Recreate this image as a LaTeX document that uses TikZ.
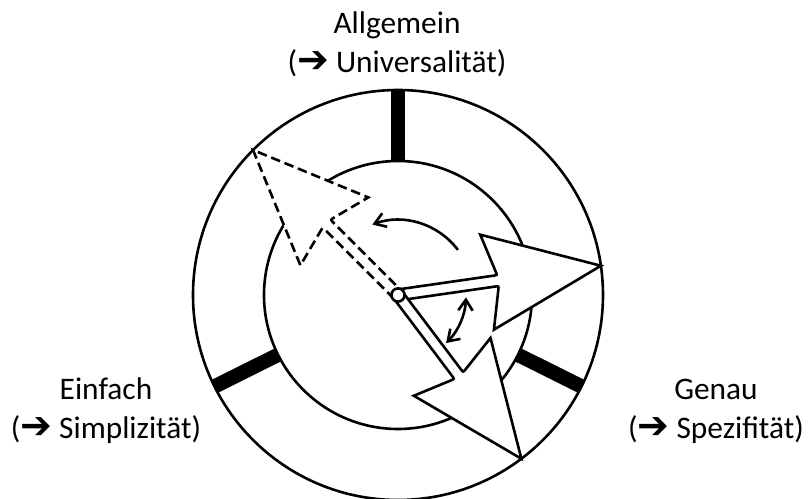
\documentclass[tikz,border=0pt]{standalone}
\usepackage{fontspec}
\setmainfont{Carlito}
\newfontfamily\arrowfont{DejaVu Sans}
\usetikzlibrary{arrows.meta}
\newcommand{\goes}{{\arrowfont\bfseries\fontsize{27}{27}\selectfont ➔}}
\begin{document}
\begin{tikzpicture}[
  x=0.025cm, y=0.025cm,
  ring/.style={draw, line width=0.065cm},
  bar/.style={line width=0.36cm},
  hand/.style={draw, fill=white, line width=0.065cm, line join=miter},
  ghost/.style={dash pattern=on 0.24cm off 0.12cm},
  turn/.style={line width=0.065cm, >={Straight Barb[length=0.27cm, width=0.36cm]}},
  hub/.style={circle, draw, fill=white, line width=0.065cm, minimum size=0.33cm, inner sep=0pt},
  note/.style={align=center, anchor=base, inner sep=0pt, font=\fontsize{22.3}{27.5}\selectfont}
]
\useasboundingbox (-398,-204) rectangle (410,295);
\draw[ring] (0,0) circle (205);
\draw[ring] (0,0) circle (134);
\foreach \a in {90,206.5,-26.5}
  \draw[bar] (\a:134) -- (\a:205);
\foreach \a/\look in {135/ghost, 8.2/solid, -53/solid}
  \draw[hand, \look, rotate=\a] (0,5.5) -- (97,5.5) .. controls (101,5.5) .. (100,9.4)
    -- (90,48) -- (205,0) -- (90,-48) -- (100,-9.4) .. controls (101,-5.5) .. (97,-5.5) -- (0,-5.5);
\draw[turn, ->] (37:75) arc[start angle=37, end angle=110, radius=75];
\draw[turn, <->] (-2:68) arc[start angle=-2, end angle=-45, radius=68];
\node[hub] (hub) at (0,0) {};
\node[note] (allgemein) at (-1,222.5) {Allgemein\\(\goes{} Universalität)};
\node[note] (einfach) at (-292,-143.3) {Einfach\\(\goes{} Simplizität)};
\node[note] (genau) at (318,-143.3) {Genau\\(\goes{} Spezifität)};
\end{tikzpicture}
\end{document}
